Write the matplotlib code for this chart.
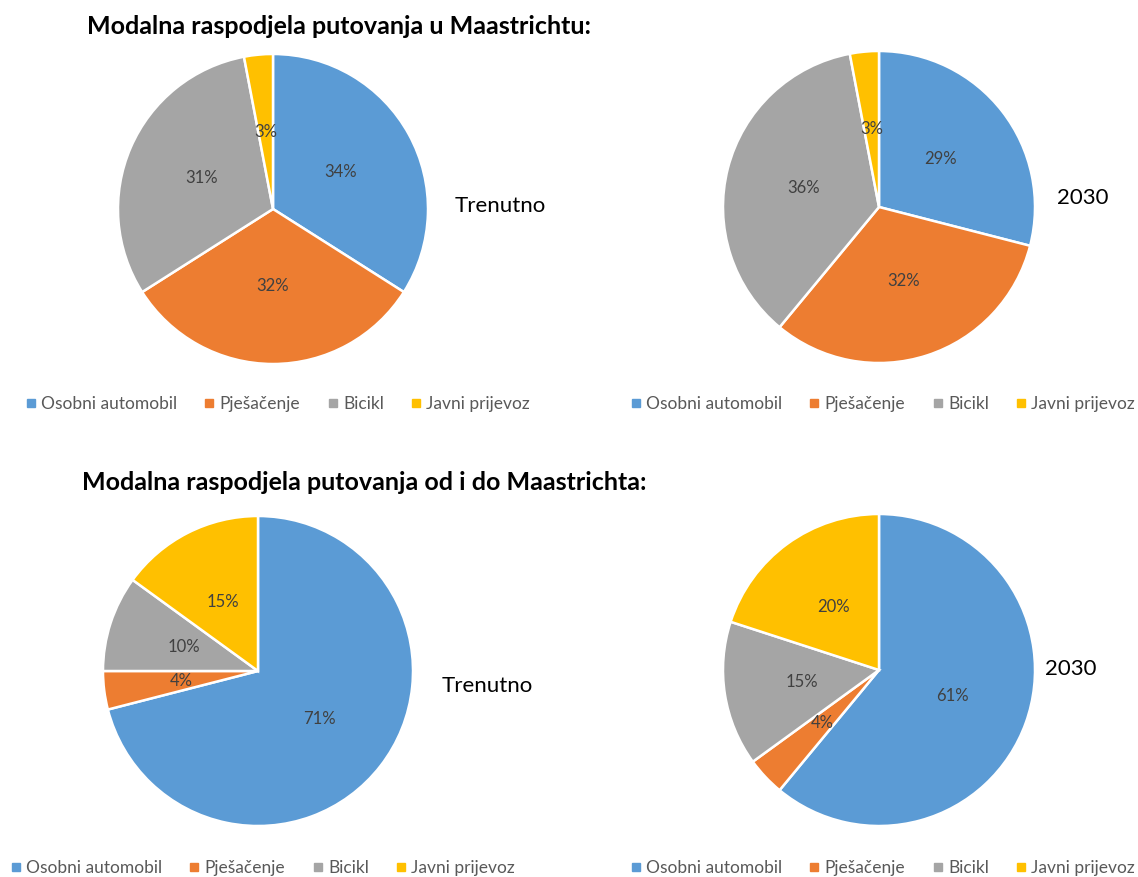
import matplotlib
matplotlib.use('Agg')
import matplotlib.pyplot as plt
from matplotlib.lines import Line2D

plt.rcParams['font.family'] = ['Lato', 'DejaVu Sans']

categories = ['Osobni automobil', 'Pješačenje', 'Bicikl', 'Javni prijevoz']
colors = ['#5B9BD5', '#ED7D31', '#A5A5A5', '#FFC000']

grad_trenutno = [34, 32, 31, 3]
grad_2030 = [29, 32, 36, 3]
regija_trenutno = [71, 4, 10, 15]
regija_2030 = [61, 4, 15, 20]

titles = ['Modalna raspodjela putovanja u Maastrichtu:',
          'Modalna raspodjela putovanja od i do Maastrichta:']
side_labels = ['Trenutno', '2030', 'Trenutno', '2030']

W, H = 1138, 877
fig = plt.figure(figsize=(W/100, H/100), dpi=100)

# pixel layout: (centre x, centre y, radius), side label pos, legend centre
pies = [
  (grad_trenutno, (273, 209, 155), (500, 206), (277, 404)),
  (grad_2030, (879, 207, 156), (1083, 198), (882, 404)),
  (regija_trenutno, (258, 671, 155), (487, 686), (262, 868)),
  (regija_2030, (879, 670, 156), (1071, 669), (882, 868)),
]

def fx(x): return x/W
def fy(y): return 1-y/H

for k, (vals, (cx, cy, r), (lx, ly), (gx, gy)) in enumerate(pies):
  m = 1.05
  ax = fig.add_axes([fx(cx-m*r), fy(cy+m*r), 2*m*r/W, 2*m*r/H])
  ax.pie(vals, colors=colors, startangle=90, counterclock=False,
         autopct='%d%%', pctdistance=0.5,
         wedgeprops=dict(edgecolor='white', linewidth=1.8),
         textprops=dict(color='#404040', fontsize=12))
  ax.set_xlim(-m, m); ax.set_ylim(-m, m)
  ax.set_aspect('equal')
  fig.text(fx(lx), fy(ly), side_labels[k], ha='center', va='center', fontsize=16, color='black')
  handles = [Line2D([], [], marker='s', ls='none', color=c, markersize=6) for c in colors]
  fig.legend(handles, categories, loc='center', bbox_to_anchor=(fx(gx), fy(gy)), ncol=4,
             frameon=False, fontsize=12.5, labelcolor='#595959', handletextpad=0.2,
             columnspacing=1.45, handlelength=0.8, borderpad=0.1, borderaxespad=0)

fig.text(fx(339), fy(26), titles[0], ha='center', va='center', fontsize=18, fontweight='bold')
fig.text(fx(364), fy(482), titles[1], ha='center', va='center', fontsize=18, fontweight='bold')

fig.savefig('out.png', dpi=100)
